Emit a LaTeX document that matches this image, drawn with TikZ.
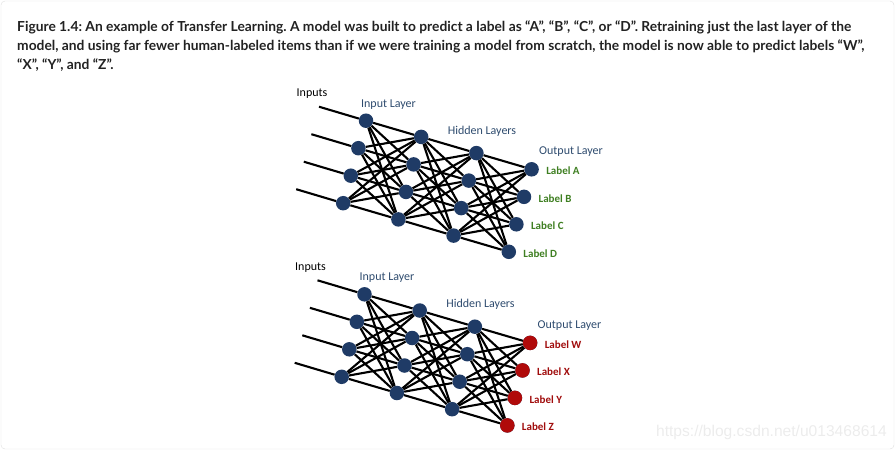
\documentclass[tikz,border=0pt]{standalone}
\usepackage{fontspec}
\setmainfont{Carlito}
\newfontfamily\captionfont{Lato}
\newfontfamily\markfont{Liberation Sans}
\usetikzlibrary{positioning,calc}

\definecolor{unitblue}{HTML}{1F3B66}
\definecolor{unitred}{HTML}{B00A0A}
\definecolor{layerblue}{HTML}{2E4B6E}
\definecolor{labelgreen}{HTML}{3F7F22}
\definecolor{labelred}{HTML}{A00C0C}
\definecolor{captiontext}{HTML}{222222}

\begin{document}
\begin{tikzpicture}[x=1pt, y=-1pt,
  unit/.style={circle, fill=unitblue, minimum size=14.5pt, inner sep=0pt},
  newunit/.style={unit, fill=unitred},
  wire/.style={line width=2.1pt, black},
  plain/.style={font=\fontsize{12}{14}\selectfont, inner sep=0pt},
  layername/.style={plain, text=layerblue},
  outlbl/.style={font=\bfseries\fontsize{11}{12}\selectfont, inner sep=0pt, anchor=west},
]
% --- frame ---
\useasboundingbox (0,0) rectangle (896,451);
\draw[gray!25, rounded corners=4pt] (1,1) rectangle (894,449);

% --- caption ---
\node[anchor=north west, align=left, inner sep=0pt, text=captiontext,
      font=\frenchspacing\captionfont\bfseries\fontsize{13.8}{19}\selectfont] (caption) at (17,21)
  {Figure 1.4: An example of Transfer Learning. A model was built to predict a label as “A”, “B”, “C”, or “D”. Retraining just the last layer of the\\
   model, and using far fewer human-labeled items than if we were training a model from scratch, the model is now able to predict labels “W”,\\
   “X”, “Y”, and “Z”.};

% --- two networks: before and after retraining ---
\foreach \net/\dx/\dy in {t/0/0, b/-1.5/173.6} {
  % units
  \foreach \l in {0,...,3}
    \foreach \k in {0,...,3}
      \node[unit] (\net-\l-\k) at (366+55.2*\l-7.6*\k+\dx, 120.7+16.2*\l+27.5*\k+\dy) {};
  % inputs
  \foreach \k in {0,...,3} {
    \coordinate (\net-in-\k) at ($(\net-0-\k)+(-47,-14)$);
    \draw[wire] (\net-in-\k) -- (\net-0-\k);
  }
  % fully connected layers
  \foreach \l [evaluate=\l as \m using int(\l+1)] in {0,1,2}
    \foreach \a in {0,...,3}
      \foreach \b in {0,...,3}
        \draw[wire] (\net-\l-\a) -- (\net-\m-\b);
  % layer names
  \node[plain] (\net-inputs) at (312+\dx, 94+\dy) {Inputs};
  \node[layername] (\net-inlayer) at (388.5+\dx, 104.5+\dy) {Input Layer};
  \node[layername] (\net-hidden) at (482+\dx, 131+\dy) {Hidden Layers};
  \node[layername] (\net-outlayer) at (571+\dx, 151.5+\dy) {Output Layer};
}

% --- retrained output layer ---
\foreach \k in {0,...,3}
  \node[newunit] at (b-3-\k) {};

% --- output labels ---
\foreach \k/\txt in {0/A,1/B,2/C,3/D}
  \node[outlbl, text=labelgreen, right=7pt of t-3-\k, yshift=-1.5pt] (t-lbl-\k) {Label \txt};
\foreach \k/\txt in {0/W,1/X,2/Y,3/Z}
  \node[outlbl, text=labelred, right=7pt of b-3-\k, yshift=-1.5pt] (b-lbl-\k) {Label \txt};

% --- watermark ---
\node[anchor=east, inner sep=0pt, text=gray!15, font=\markfont\fontsize{15.6}{17}\selectfont]
  (mark) at (887,432) {https://blog.csdn.net/u013468614};
\end{tikzpicture}
\end{document}
